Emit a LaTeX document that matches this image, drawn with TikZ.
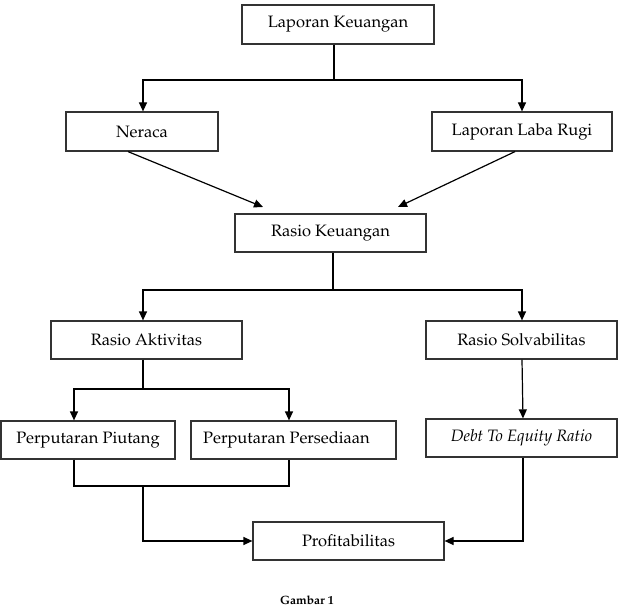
\documentclass[tikz,border=0pt]{standalone}
\usepackage[T1]{fontenc}
\usepackage{palatino}
\usetikzlibrary{arrows.meta,calc}
\begin{document}
\begin{tikzpicture}[x=1pt,y=-1pt,
  box/.style={draw=black!80,line width=1.2pt,rectangle,inner sep=0pt,font=\fontsize{16.5}{19}\selectfont},
  ln/.style={line width=1.2pt,black},
  arr/.style={ln,-{Triangle[length=9pt,width=8pt]}}]
\useasboundingbox (0,0) rectangle (622,607);
\node[box,minimum width=192pt,minimum height=39pt] (lk) at (338,24.5) {Laporan Keuangan};
\node[box,minimum width=152pt,minimum height=39pt] (ner) at (142,131.5) {Neraca};
\node[box,minimum width=180pt,minimum height=39pt] (llr) at (522,131.5) {Laporan Laba Rugi};
\node[box,minimum width=191pt,minimum height=38pt] (rk) at (330.5,233) {Rasio Keuangan};
\node[box,minimum width=191pt,minimum height=38pt] (ra) at (146.5,340) {Rasio Aktivitas};
\node[box,minimum width=191pt,minimum height=38pt] (rs) at (521.5,340) {Rasio Solvabilitas};
\node[box,minimum width=174pt,minimum height=38pt] (pp) at (88,440) {Perputaran Piutang};
\node[box,minimum width=205pt,minimum height=38pt] (pps) at (293.5,440) {Perputaran Persediaan\hspace*{14pt}};
\node[box,minimum width=191pt,minimum height=38pt] (der) at (521.5,438) {\itshape Debt To Equity Ratio};
\node[box,minimum width=191pt,minimum height=38pt] (prof) at (348.5,541) {Profitabilitas};
\node[font=\bfseries\fontsize{12}{14}\selectfont,inner sep=0pt] (cap) at (307,600) {Gambar 1};
% top split
\coordinate (j1) at (334,80);
\draw[ln] (lk.south -| j1) -- (j1);
\draw[arr] (j1) -| ($(ner.north)+(1,0)$);
\draw[arr] (j1) -| (llr.north);
% to Rasio Keuangan
\coordinate (t1) at (263,207);
\coordinate (t2) at (398,207);
\draw[arr] ($(ner.south)+(-14,0)$) -- (t1);
\draw[arr] ($(llr.south)+(-7,0)$) -- (t2);
% second split
\coordinate (j2) at (333,290);
\draw[ln] (rk.south -| j2) -- (j2);
\draw[arr] (j2) -| ($(ra.north)+(-3.5,0)$);
\draw[arr] (j2) -| ($(rs.north)+(0.5,0)$);
% Rasio Aktivitas split
\coordinate (j3) at (143,389);
\draw[ln] (ra.south -| j3) -- (j3);
\draw[arr] (j3) -| ($(pp.north)+(-14,0)$);
\draw[arr] (j3) -| ($(pps.north)+(-4.5,0)$);
% Solvabilitas to DER
\draw[arr] ($(rs.south)+(0.5,0)$) -- ($(der.north)+(1.5,0)$);
% merge to Profitabilitas
\coordinate (m1) at (74,486);
\coordinate (m2) at (289,486);
\coordinate (m3) at (143,486);
\draw[ln] (pp.south -| m1) -- (m1) -- (m2) -- (pps.south -| m2);
\draw[arr] (m3) |- (prof.west);
\draw[arr] ($(der.south)+(1.5,0)$) |- (prof.east);
\end{tikzpicture}
\end{document}
